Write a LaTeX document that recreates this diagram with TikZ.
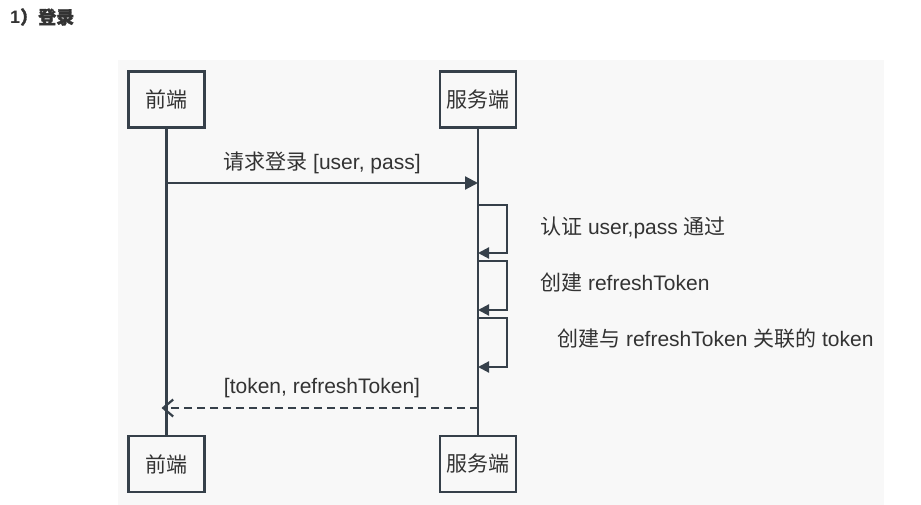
\documentclass[tikz,border=0pt]{standalone}
\usepackage{fontspec}
\setmainfont{Liberation Sans}
\newfontfamily\cjk{Noto Sans CJK SC}
\newfontfamily\cjkbold[FakeBold=1.5]{Noto Sans CJK SC}
\usetikzlibrary{arrows.meta}
\definecolor{linecol}{HTML}{36404A}
\definecolor{textcol}{HTML}{333333}
\definecolor{panelcol}{HTML}{F8F8F8}
\tikzset{
  actor/.style={draw=linecol, line width=2.2pt, fill=panelcol, minimum width=76pt,
    minimum height=56pt, inner sep=0pt, font=\fontsize{21}{24}\selectfont, text=textcol},
  lifeline/.style={draw=linecol, line width=2.2pt},
  msg/.style={draw=linecol, line width=2.2pt, -{Triangle[length=13pt,width=13pt]}},
  reply/.style={draw=linecol, line width=2.2pt, dash pattern=on 8pt off 5pt,
    -{Straight Barb[length=10pt,width=17pt,line width=2.2pt]}},
  selfmsg/.style={draw=linecol, line width=2.2pt, -{Triangle[length=11pt,width=11pt]}},
  lbl/.style={font=\fontsize{21}{24}\selectfont, text=textcol, inner sep=0pt}
}
\begin{document}
\begin{tikzpicture}[x=1pt,y=-1pt]
    \useasboundingbox (0,0) rectangle (921,505);
    \fill[panelcol] (118,60) rectangle (884,505);
    \node[anchor=west, inner sep=0pt, text=textcol, font=\fontsize{18}{20}\selectfont\bfseries]
        (title) at (10,17) {1\cjkbold）登录};
    % lifelines
    \node[actor] (fe) at (166.5,99.5) {\cjk 前端};
    \node[actor] (be) at (478,99.5) {\cjk 服务端};
    \node[actor] (fe2) at (166.5,464) {\cjk 前端};
    \node[actor] (be2) at (478,464) {\cjk 服务端};
    \draw[lifeline] (fe) -- (fe2);
    \draw[lifeline] (be) -- (be2);
    % request
    \coordinate (fe-req) at (fe |- 0,183);
    \coordinate (be-req) at (be |- 0,183);
    \draw[msg] (fe-req) -- (be-req);
    \node[lbl, anchor=south] (reqlbl) at (322,174) {{\cjk 请求登录} [user, pass]};
    % self calls
    \coordinate (s1a) at (be |- 0,205);
    \coordinate (s1b) at (be |- 0,253);
    \coordinate (s2a) at (be |- 0,261);
    \coordinate (s2b) at (be |- 0,310);
    \coordinate (s3a) at (be |- 0,318);
    \coordinate (s3b) at (be |- 0,367);
    \draw[selfmsg] (s1a) -- ++(29,0) |- (s1b);
    \draw[selfmsg] (s2a) -- ++(29,0) |- (s2b);
    \draw[selfmsg] (s3a) -- ++(29,0) |- (s3b);
    \node[lbl, anchor=west] (chk) at (540,228) {{\cjk 认证} user,pass {\cjk 通过}};
    \node[lbl, anchor=west] (mkrt) at (540,283) {{\cjk 创建} refreshToken};
    \node[lbl, anchor=west] (mktk) at (557,339) {{\cjk 创建与} refreshToken {\cjk 关联的} token};
    % reply
    \coordinate (be-rep) at (be |- 0,408);
    \coordinate (fe-rep) at ([xshift=-5pt]fe |- 0,408);
    \draw[reply] (be-rep) -- (fe-rep);
    \node[lbl, anchor=south] (replbl) at (322,398) {[token, refreshToken]};
\end{tikzpicture}
\end{document}
